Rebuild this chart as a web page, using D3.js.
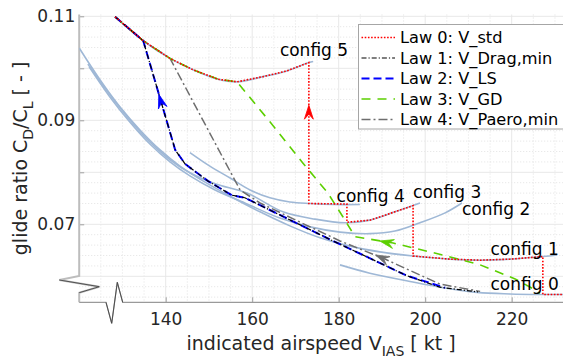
<!DOCTYPE html>
<html>
<head>
<meta charset="utf-8">
<script src="https://cdn.jsdelivr.net/npm/d3@7"></script>
<style>
body { margin: 0; background: #fff; }
svg { display: block; font-family: "DejaVu Sans", Verdana, sans-serif; }
</style>
</head>
<body>
<div id="chart"></div>
<script>
const width = 563;
const height = 359;

// configuration curves (speed in kt, glide ratio)
const config0V = [180.3, 187.2, 196.5, 203.4, 212.0, 219.6, 226.5, 231.9];
const config0G = [0.0622, 0.0606, 0.0590, 0.0579, 0.0569, 0.0566, 0.0565, 0.0565];
const config1V = [120.0, 124.8, 129.4, 134.1, 138.7, 143.3, 149.1, 154.9, 161.8, 168.7, 175.7, 182.6, 189.5, 197.2, 205.7, 212.7, 219.6, 227.2, 230.5];
const config1G = [0.1039, 0.0978, 0.0926, 0.0881, 0.0843, 0.0812, 0.0781, 0.0754, 0.0724, 0.0697, 0.0674, 0.0658, 0.0647, 0.0639, 0.0633, 0.0631, 0.0633, 0.0638, 0.0641];
const config2V = [122.3, 127.1, 131.7, 136.4, 141.0, 145.6, 151.4, 158.3, 166.4, 173.4, 180.3, 187.2, 193.0, 198.8, 204.6, 208.5];
const config2G = [0.1003, 0.0945, 0.0897, 0.0854, 0.0820, 0.0793, 0.0766, 0.0741, 0.0712, 0.0695, 0.0685, 0.0682, 0.0687, 0.0703, 0.0722, 0.0741];
const config3V = [122.0, 127.1, 131.7, 136.4, 141.0, 145.6, 151.4, 158.8, 167.1, 174.5, 181.5, 187.2, 193.0, 198.8];
const config3G = [0.1008, 0.0949, 0.0901, 0.0858, 0.0824, 0.0799, 0.0778, 0.0760, 0.0724, 0.0710, 0.0703, 0.0708, 0.0724, 0.0741];
const config4V = [145.6, 150.2, 154.9, 159.5, 164.1, 168.7, 173.4, 179.1, 184.9];
const config4G = [0.0838, 0.0812, 0.0789, 0.0766, 0.0751, 0.0743, 0.0740, 0.0738, 0.0738];
const config5V = [128.3, 134.8, 141.0, 146.1, 152.1, 156.5, 162.5, 168.0, 173.1, 174.1];
const config5G = [0.1099, 0.1053, 0.1019, 0.0998, 0.0979, 0.0974, 0.0984, 0.0995, 0.1011, 0.1013];

const configNames = ['config 0', 'config 1', 'config 2', 'config 3', 'config 4', 'config 5'];
const configLabelV = [215.1, 215.1, 208.5, 197.2, 179.5, 166.4];
const configLabelG = [0.0574, 0.0641, 0.0718, 0.0751, 0.0743, 0.1024];

// speed laws
const law0V = [128.3, 134.8, 141.0, 146.1, 152.1, 156.5, 162.5, 168.0, 173.1, 173.1, 181.9, 181.9, 187.2, 193.0, 197.2, 197.2, 205.7, 212.7, 219.6, 227.2, 227.2, 231.9];
const law0G = [0.1099, 0.1053, 0.1019, 0.0998, 0.0979, 0.0974, 0.0984, 0.0995, 0.1011, 0.0740, 0.0739, 0.0704, 0.0708, 0.0724, 0.0736, 0.0639, 0.0633, 0.0631, 0.0633, 0.0638, 0.0565, 0.0565];
const law1V = [128.3, 134.8, 142.2, 144.5, 149.8, 155.3, 158.3, 166.4, 178.7, 195.8, 203.4, 212.2];
const law1G = [0.1099, 0.1053, 0.0843, 0.0816, 0.0783, 0.0756, 0.0751, 0.0718, 0.0668, 0.0601, 0.0579, 0.0570];
const law2V = [128.3, 134.8, 142.2, 144.5, 149.8, 155.3, 158.3, 166.4, 178.7, 195.8, 204.6];
const law2G = [0.1099, 0.1053, 0.0843, 0.0816, 0.0783, 0.0756, 0.0751, 0.0718, 0.0668, 0.0601, 0.0578];
const law3V = [128.3, 134.8, 141.0, 146.1, 152.1, 156.5, 164.1, 171.7, 177.5, 181.0, 183.8, 192.6, 205.0, 212.7, 220.8, 225.4, 226.5];
const law3G = [0.1099, 0.1053, 0.1019, 0.0998, 0.0979, 0.0974, 0.0897, 0.0818, 0.0760, 0.0714, 0.0676, 0.0664, 0.0639, 0.0622, 0.0595, 0.0574, 0.0567];
const law4V = [128.3, 134.8, 141.0, 157.2, 161.8, 171.1, 180.3, 190.2, 203.4, 212.7];
const law4G = [0.1099, 0.1053, 0.1019, 0.0766, 0.0741, 0.0704, 0.0668, 0.0635, 0.0585, 0.0571];

const lawNames = ['Law 0: V_std', 'Law 1: V_Drag,min', 'Law 2: V_LS', 'Law 3: V_GD', 'Law 4: V_Paero,min'];

// arrows: tip and a point behind it on the same line
const arrowTipV = [173.1, 138.4, 189.5, 188.5];
const arrowTipG = [0.0929, 0.0950, 0.0668, 0.0641];
const arrowTailV = [173.1, 142.2, 205.0, 203.4];
const arrowTailG = [0.0800, 0.0843, 0.0639, 0.0585];

const xTicks = [140, 160, 180, 200, 220];
const yTicks = [0.07, 0.08, 0.09, 0.10, 0.11];
const yTickLabels = ['0.07', '', '0.09', '', '0.11'];

const plotLeft = 79.2, plotRight = 563, plotBottom = 302.3, plotTop = 14.5;

const x = d3.scaleLinear().domain([120, 232]).range([plotLeft, plotLeft + 112 * 4.325]);
const y = d3.scaleLinear().domain([0.055, 0.11]).range([plotBottom, plotBottom - 0.055 * 5200]);

const svg = d3.select('#chart').append('svg')
    .attr('width', width)
    .attr('height', height);

svg.append('clipPath').attr('id', 'plotclip')
    .append('rect')
    .attr('x', plotLeft).attr('y', plotTop)
    .attr('width', plotRight - plotLeft).attr('height', plotBottom - plotTop);

// grid
const grid = svg.append('g');
const xMinor = d3.range(25, 47).map(i => i * 5).filter(v => v % 20 !== 0);
const yMinor = d3.range(28, 56).map(i => +(i * 0.002).toFixed(3)).filter(v => Math.abs(v * 100 - Math.round(v * 100)) > 1e-6);
const yMajor = [0.06, 0.07, 0.08, 0.09, 0.10, 0.11];

grid.selectAll('.xminor').data(xMinor).enter().append('line')
    .attr('x1', d => x(d)).attr('x2', d => x(d))
    .attr('y1', plotTop).attr('y2', plotBottom)
    .attr('stroke', '#dcdcdc').attr('stroke-width', 0.8).attr('stroke-dasharray', '1,2');
grid.selectAll('.yminor').data(yMinor).enter().append('line')
    .attr('x1', plotLeft).attr('x2', plotRight)
    .attr('y1', d => y(d)).attr('y2', d => y(d))
    .attr('stroke', '#dcdcdc').attr('stroke-width', 0.8).attr('stroke-dasharray', '1,2');
grid.selectAll('.xmajor').data(xTicks).enter().append('line')
    .attr('x1', d => x(d)).attr('x2', d => x(d))
    .attr('y1', plotTop).attr('y2', plotBottom)
    .attr('stroke', '#e8e8e8').attr('stroke-width', 1);
grid.selectAll('.ymajor').data(yMajor).enter().append('line')
    .attr('x1', plotLeft).attr('x2', plotRight)
    .attr('y1', d => y(d)).attr('y2', d => y(d))
    .attr('stroke', '#e8e8e8').attr('stroke-width', 1);

// axes
const xAxis = d3.axisBottom(x).tickValues(xTicks).tickSizeInner(-5).tickSizeOuter(0).tickPadding(11);
const yAxis = d3.axisLeft(y).tickValues(yTicks).tickSizeInner(-5).tickSizeOuter(0).tickPadding(4)
    .tickFormat((d, i) => yTickLabels[i]);

const gx = svg.append('g').attr('transform', `translate(0,${plotBottom})`).call(xAxis);
const gy = svg.append('g').attr('transform', `translate(${plotLeft},0)`).call(yAxis);
[gx, gy].forEach(g => {
    g.select('.domain').remove();
    g.selectAll('.tick line').attr('stroke', '#a0a0a0');
    g.selectAll('.tick text').attr('fill', '#262626').style('font-size', '17px')
        .style('font-family', '"DejaVu Sans", Verdana, sans-serif');
});

// axis lines with breaks
svg.append('path')
    .attr('d', `M${plotLeft},${plotTop} V276 L59.3,280 L99.3,286.7 L${plotLeft},292.7 V${plotBottom}`)
    .attr('fill', 'none').attr('stroke', '#bdbdbd').attr('stroke-width', 2);
svg.append('path')
    .attr('d', `M59.3,280 L99.3,286.7 L${plotLeft},292.7`)
    .attr('fill', 'none').attr('stroke', '#444').attr('stroke-width', 0.9);
svg.append('path')
    .attr('d', `M${plotLeft},${plotBottom} H106 L111.7,323.3 L117.3,282.3 L122.7,${plotBottom} H${plotRight}`)
    .attr('fill', 'none').attr('stroke', '#9a9a9a').attr('stroke-width', 1.2);
svg.append('path')
    .attr('d', `M106,${plotBottom} L111.7,323.3 L117.3,282.3 L122.7,${plotBottom}`)
    .attr('fill', 'none').attr('stroke', '#444').attr('stroke-width', 0.9);

// curves
const plot = svg.append('g').attr('clip-path', 'url(#plotclip)');
const smooth = d3.line().x(d => x(d[0])).y(d => y(d[1])).curve(d3.curveCatmullRom.alpha(0.5));
const straight = d3.line().x(d => x(d[0])).y(d => y(d[1]));
const zipPts = (vs, gs) => vs.map((v, i) => [v, gs[i]]);

const configs = [
    zipPts(config0V, config0G), zipPts(config1V, config1G), zipPts(config2V, config2G),
    zipPts(config3V, config3G), zipPts(config4V, config4G), zipPts(config5V, config5G)
];
plot.selectAll('.config').data(configs).enter().append('path')
    .attr('d', smooth)
    .attr('fill', 'none')
    .attr('stroke', '#9fb8d6')
    .attr('stroke-width', 1.6);

const lawStyles = [
    {color: '#ff0000', width: 1.6, dash: '1.6,1.6'},
    {color: '#000000', width: 1.2, dash: '5,2,1.2,2'},
    {color: '#0000ff', width: 2, dash: '8,4'},
    {color: '#5ccf00', width: 1.6, dash: '9,7'},
    {color: '#6e6e6e', width: 1.5, dash: '9,3,2,3'}
];
const laws = [
    zipPts(law4V, law4G), zipPts(law3V, law3G), zipPts(law2V, law2G),
    zipPts(law1V, law1G), zipPts(law0V, law0G)
];
const lawOrder = [4, 3, 2, 1, 0];
plot.selectAll('.law').data(laws).enter().append('path')
    .attr('d', straight)
    .attr('fill', 'none')
    .attr('stroke', (d, i) => lawStyles[lawOrder[i]].color)
    .attr('stroke-width', (d, i) => lawStyles[lawOrder[i]].width)
    .attr('stroke-dasharray', (d, i) => lawStyles[lawOrder[i]].dash);

// arrow heads
const arrowColors = ['#ff0000', '#0000ff', '#5ccf00', '#6e6e6e'];
plot.selectAll('.arrow').data(arrowTipV).enter().append('path')
    .attr('d', (d, i) => {
        const tx = x(arrowTipV[i]), ty = y(arrowTipG[i]);
        const fx = x(arrowTailV[i]), fy = y(arrowTailG[i]);
        const len = Math.hypot(tx - fx, ty - fy);
        const ux = (tx - fx) / len, uy = (ty - fy) / len;
        const px = -uy, py = ux;
        const L = 14, W = 4.5, N = 9;
        return `M${tx},${ty} L${tx - L * ux + W * px},${ty - L * uy + W * py} L${tx - N * ux},${ty - N * uy} L${tx - L * ux - W * px},${ty - L * uy - W * py} Z`;
    })
    .attr('fill', (d, i) => arrowColors[i])
    .attr('stroke', (d, i) => arrowColors[i])
    .attr('stroke-width', 0.8);

// config labels
svg.selectAll('.clabel').data(configNames).enter().append('text')
    .attr('x', (d, i) => x(configLabelV[i]))
    .attr('y', (d, i) => y(configLabelG[i]))
    .attr('fill', '#000')
    .style('font-size', '17px')
    .text(d => d);

// legend
const legend = svg.append('g');
legend.append('rect')
    .attr('x', 358.5).attr('y', 24.5)
    .attr('width', 230).attr('height', 104.5)
    .attr('fill', '#fff').attr('stroke', '#a6a6a6').attr('stroke-width', 1);
const rowY = i => 37.5 + i * 20.5;
legend.selectAll('.lline').data(lawNames).enter().append('line')
    .attr('x1', 361.5).attr('x2', 395)
    .attr('y1', (d, i) => rowY(i)).attr('y2', (d, i) => rowY(i))
    .attr('stroke', (d, i) => lawStyles[i].color)
    .attr('stroke-width', (d, i) => lawStyles[i].width)
    .attr('stroke-dasharray', (d, i) => lawStyles[i].dash);
legend.selectAll('.ltext').data(lawNames).enter().append('text')
    .attr('x', 400)
    .attr('y', (d, i) => rowY(i) + 5.5)
    .attr('fill', '#000')
    .style('font-size', '16.2px')
    .text(d => d);

// axis titles
const xTitle = svg.append('text')
    .attr('x', (plotLeft + plotRight) / 2).attr('y', 350)
    .attr('text-anchor', 'middle')
    .attr('fill', '#262626')
    .style('font-size', '19px');
xTitle.append('tspan').text('indicated airspeed V');
xTitle.append('tspan').attr('dy', 6).style('font-size', '14px').text('IAS');
xTitle.append('tspan').attr('dy', -6).text(' [ kt ]');

const yTitle = svg.append('text')
    .attr('transform', `translate(27,${(plotTop + plotBottom) / 2}) rotate(-90)`)
    .attr('text-anchor', 'middle')
    .attr('fill', '#262626')
    .style('font-size', '19px');
yTitle.append('tspan').text('glide ratio C');
yTitle.append('tspan').attr('dy', 6).style('font-size', '14px').text('D');
yTitle.append('tspan').attr('dy', -6).text('/C');
yTitle.append('tspan').attr('dy', 6).style('font-size', '14px').text('L');
yTitle.append('tspan').attr('dy', -6).text(' [ - ]');
</script>
</body>
</html>
